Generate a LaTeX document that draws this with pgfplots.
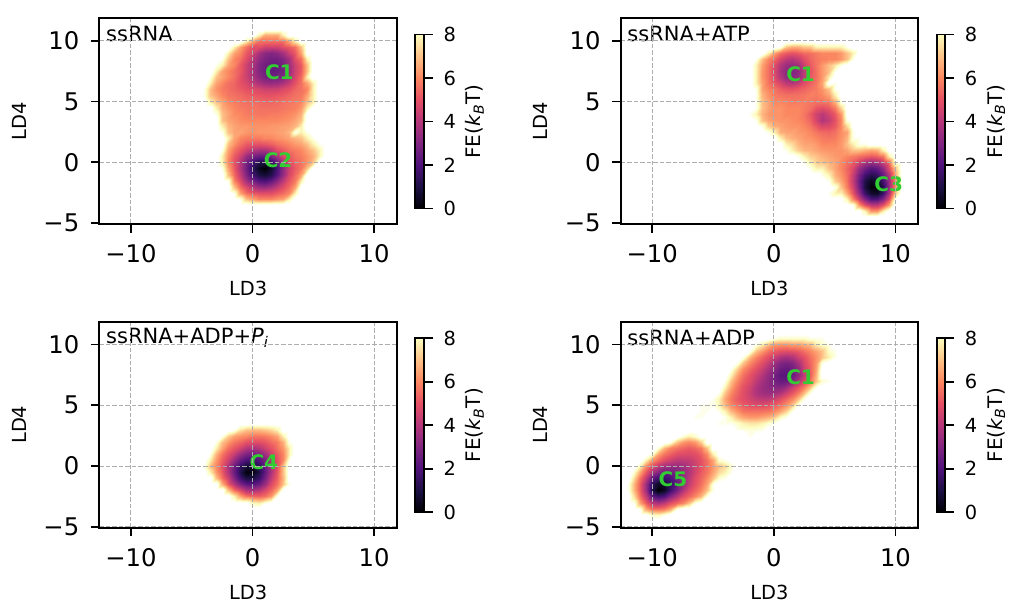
\documentclass[border=0pt]{standalone}
\usepackage{fontspec}
\setmainfont{DejaVu Sans}
\usepackage{pgfplots}
\pgfplotsset{compat=1.18}
\definecolor{cgreen}{RGB}{50,205,50}
\tikzset{
  lab/.style={font=\fontsize{20}{20}\selectfont\bfseries, text=cgreen, inner sep=0pt},
  ttl/.style={font=\fontsize{21}{21}\selectfont, anchor=west, inner sep=0pt},
}
\pgfplotsset{
  colormap={magw}{rgb255(0cm)=(0,0,4); rgb255(1cm)=(28,16,68); rgb255(2cm)=(79,18,123); rgb255(3cm)=(129,37,129); rgb255(4cm)=(181,54,122); rgb255(5cm)=(229,80,100); rgb255(6cm)=(251,135,97); rgb255(7cm)=(254,194,135); rgb255(8cm)=(252,253,191); rgb255(8.7cm)=(255,255,255); rgb255(9cm)=(255,255,255)},
  /pgfplots/table/cells/.style n args={3}{row sep=crcr, header=false, meta index=0,
    x expr={#2+0.5*mod(\coordindex,#1)}, y expr={#3-0.5*floor(\coordindex/#1)}},
  panel/.style={
    scale only axis, width=297.6pt, height=206pt, anchor=south west,
    xmin=-12.6, xmax=11.87, ymin=-5.07, ymax=11.87,
    xtick={-10,0,10}, xticklabels={−10,0,10},
    ytick={-5,0,5,10}, yticklabels={−5,0,5,10},
    tick align=outside, xtick pos=bottom, ytick pos=left,
    major tick length=8.5pt, tick style={black, line width=1.7pt},
    axis line style={line width=1.9pt},
    grid=major, major grid style={color=black!32, line width=1.1pt, dash pattern=on 4.5pt off 2pt},
    axis on top,
    tick label style={font=\fontsize{24.3}{24.3}\selectfont},
    xticklabel style={yshift=-8.5pt}, yticklabel style={xshift=-8pt},
    xlabel=LD3, ylabel=LD4,
    xlabel style={font=\fontsize{19.4}{19.4}\selectfont, at={(axis description cs:0.5,-0.315)}, anchor=center},
    ylabel style={font=\fontsize{19.4}{19.4}\selectfont, at={(axis description cs:-0.268,0.5)}, anchor=center},
    colormap name=magw, point meta min=0, point meta max=9,
    colorbar,
    colorbar style={
      scale only axis, width=8.6pt, height=174pt,
      at={(parent axis.north east)}, anchor=north west, xshift=10pt, yshift=-16.5pt,
      ymin=0, ymax=8, ytick={0,2,4,6,8}, yticklabels={0,2,4,6,8},
      tick align=outside, ytick pos=right,
      major tick length=8.5pt, tick style={black, line width=1.7pt},
      axis line style={line width=1.9pt},
      tick label style={font=\fontsize{19.4}{19.4}\selectfont},
      yticklabel style={xshift=7.5pt},
      ylabel={FE(\textit{k}\textsubscript{\textit{B}}T)},
      ylabel style={font=\fontsize{20}{20}\selectfont, at={(axis description cs:6.9,0.5)}, anchor=center, rotate=0},
    },
  },
  heat/.style={surf, shader=interp, point meta=explicit, mesh/cols=#1},
}
\begin{document}
\begin{tikzpicture}[x=1pt,y=1pt]
\useasboundingbox (0,0) rectangle (1011,603);
% ssRNA
\begin{axis}[panel, at={(99.3pt,379pt)}]
\addplot[heat=22] table[cells={22}{-4.5}{11}] {
9\\9\\9\\9\\9\\9\\9\\9\\9\\9\\9\\9\\9\\9\\9\\9\\9\\9\\9\\9\\9\\9\\
9\\9\\9\\9\\9\\9\\9\\9\\9\\9\\7.8\\6.6\\6.6\\6.6\\7.8\\9\\9\\9\\9\\9\\9\\9\\
9\\9\\9\\9\\9\\9\\9\\9\\7.8\\6.5\\5.6\\5.6\\5.6\\5.6\\5.6\\6.5\\7.8\\9\\9\\9\\9\\9\\
9\\9\\9\\9\\9\\9\\7.8\\6.5\\5.6\\4.9\\4.9\\4.5\\4.5\\4.5\\4.9\\5.2\\5.6\\7\\9\\9\\9\\9\\
9\\9\\9\\9\\9\\7.8\\6.5\\6\\5.2\\4.5\\3.7\\3.2\\3\\3.2\\3.7\\4.5\\5.2\\6.5\\9\\9\\9\\9\\
9\\9\\9\\9\\8.5\\7\\6\\5.6\\4.9\\4\\3.3\\2.9\\2.7\\2.7\\3\\3.7\\4.9\\5.6\\7.8\\9\\9\\9\\
9\\9\\9\\8.5\\7.8\\6.5\\6\\5.2\\4.5\\3.8\\3\\2.7\\2.5\\2.5\\2.8\\3.5\\4.5\\5.2\\7\\9\\9\\9\\
9\\9\\9\\7.8\\6.5\\6\\5.6\\5.2\\4.5\\3.7\\3\\2.6\\2.4\\2.5\\2.8\\3.5\\4.5\\5.2\\7\\9\\9\\9\\
9\\9\\8.5\\7\\6.5\\6\\5.6\\5\\4.5\\3.8\\3.2\\2.8\\2.7\\2.8\\3\\3.7\\4.7\\5.5\\7.8\\9\\9\\9\\
9\\9\\7.8\\6.5\\6\\5.6\\5.4\\5\\4.7\\4.2\\3.8\\3.5\\3.4\\3.5\\3.8\\4.3\\5\\5.6\\6.5\\7.8\\9\\9\\
9\\8.5\\7\\6.2\\5.8\\5.6\\5.4\\5.2\\5\\4.9\\4.7\\4.5\\4.5\\4.5\\4.8\\5\\5.4\\5.6\\6\\7.8\\9\\9\\
9\\8.5\\7\\6.5\\6\\5.7\\5.6\\5.5\\5.3\\5.2\\5.1\\5\\5\\5.1\\5.2\\5.4\\5.6\\5.7\\6.5\\7.8\\9\\9\\
9\\9\\7.8\\7\\6.5\\6\\5.8\\5.7\\5.6\\5.5\\5.5\\5.4\\5.4\\5.5\\5.6\\5.7\\5.8\\6\\7\\7.8\\9\\9\\
9\\9\\9\\7.8\\6.7\\6.3\\6\\5.8\\5.7\\5.7\\5.6\\5.6\\5.6\\5.6\\5.7\\5.8\\5.9\\6.3\\7.8\\9\\9\\9\\
9\\9\\9\\8.5\\7\\6.5\\6.1\\6\\5.8\\5.8\\5.7\\5.7\\5.8\\5.8\\5.9\\6\\6.2\\6.7\\9\\9\\9\\9\\
9\\9\\9\\9\\7\\6.5\\6.3\\6.1\\6\\6\\6\\6\\6\\6\\6.1\\6.2\\6.5\\7\\9\\9\\9\\9\\
9\\9\\9\\9\\7.8\\6.8\\6.5\\6.3\\6.3\\6.2\\6.2\\6.2\\6.3\\6.3\\6.4\\6.5\\6.8\\7.8\\9\\9\\9\\9\\
9\\9\\9\\9\\8.5\\7\\6.5\\6.5\\6.3\\6.2\\6.3\\6.3\\6.3\\6.4\\6.5\\6.8\\8.5\\7.8\\8.5\\9\\9\\9\\
9\\9\\9\\9\\9\\7.8\\6.5\\6\\5.8\\5.8\\5.8\\6\\6\\6.2\\6.3\\6.5\\6.8\\7\\7.8\\8.5\\9\\9\\
9\\9\\9\\9\\9\\7\\6.2\\5.6\\5.2\\5\\5\\5.1\\5.3\\5.6\\5.8\\6\\6.3\\6.5\\7\\7.8\\8.5\\9\\
9\\9\\9\\9\\8.5\\6.5\\5.6\\5.1\\4.5\\4\\3.8\\3.8\\4.2\\4.9\\5.2\\5.6\\5.8\\6\\6.5\\7\\7.8\\9\\
9\\9\\9\\9\\7.8\\6.2\\5.2\\4.5\\3.5\\2.8\\2.5\\2.5\\3\\3.8\\4.8\\5.2\\5.6\\5.8\\6.2\\6.7\\7.8\\9\\
9\\9\\9\\9\\7.8\\6\\5\\4\\2.8\\1.7\\1.1\\1\\1.5\\2.5\\3.8\\4.9\\5.4\\5.7\\6.2\\7\\9\\9\\
9\\9\\9\\9\\8.5\\6.5\\5.2\\4\\2.7\\1.3\\.4\\0\\.6\\1.8\\3.2\\4.5\\5.2\\5.7\\7\\9\\9\\9\\
9\\9\\9\\9\\9\\7\\5.5\\4.3\\3\\1.8\\1\\.8\\1.2\\2.2\\3.4\\4.7\\5.5\\6.5\\9\\9\\9\\9\\
9\\9\\9\\9\\9\\8.5\\6\\4.9\\3.7\\2.8\\2.2\\2\\2.4\\3.2\\4.2\\5.1\\5.8\\7.8\\9\\9\\9\\9\\
9\\9\\9\\9\\9\\9\\7\\5.6\\4.8\\4\\3.5\\3.4\\3.7\\4.3\\4.9\\5.5\\6.5\\9\\9\\9\\9\\9\\
9\\9\\9\\9\\9\\9\\8.5\\6.5\\5.6\\5.1\\4.9\\4.9\\4.9\\5.2\\5.5\\6\\7.8\\9\\9\\9\\9\\9\\
9\\9\\9\\9\\9\\9\\9\\8.5\\7\\6.5\\6\\6\\6\\6.3\\6.5\\7.8\\9\\9\\9\\9\\9\\9\\
9\\9\\9\\9\\9\\9\\9\\9\\9\\9\\9\\9\\9\\9\\9\\9\\9\\9\\9\\9\\9\\9\\
};
\node[ttl] at (axis cs:-12.05,10.55) {ssRNA};
\node[lab] at (axis cs:2.2,7.4) {C1};
\node[lab] at (axis cs:2.1,0.15) {C2};
\end{axis}
% ssRNA+ATP
\begin{axis}[panel, at={(620.6pt,379pt)}]
\addplot[heat=28] table[cells={28}{-2.5}{10}] {
9\\9\\9\\9\\9\\9\\9\\9\\9\\9\\9\\9\\9\\9\\9\\9\\9\\9\\9\\9\\9\\9\\9\\9\\9\\9\\9\\9\\
9\\9\\9\\9\\9\\9\\8.5\\7\\6.6\\6.6\\7\\7\\7.8\\7.8\\7.8\\7.8\\7.8\\8.5\\9\\9\\9\\9\\9\\9\\9\\9\\9\\9\\
9\\9\\9\\9\\7.8\\6.5\\5.6\\5.2\\5\\5.2\\5.5\\5.6\\5.8\\6\\6\\6\\6.3\\7\\7.8\\9\\9\\9\\9\\9\\9\\9\\9\\9\\
9\\9\\8.5\\7\\6\\5.5\\4.7\\4.2\\4\\4.3\\4.9\\5.4\\5.7\\5.9\\6\\6\\6.3\\7\\8.5\\9\\9\\9\\9\\9\\9\\9\\9\\9\\
9\\9\\7.8\\6.5\\5.7\\4.9\\4\\3.5\\3.4\\3.6\\4.5\\5.2\\5.7\\6.3\\7\\7.6\\8.5\\9\\9\\9\\9\\9\\9\\9\\9\\9\\9\\9\\
9\\9\\7.8\\6.3\\5.6\\4.8\\3.8\\3.2\\3\\3.2\\4.2\\5\\5.6\\6.3\\7\\8.5\\9\\9\\9\\9\\9\\9\\9\\9\\9\\9\\9\\9\\
9\\9\\7.8\\6.3\\5.6\\4.9\\4\\3.3\\3.1\\3.4\\4.2\\5.1\\5.6\\6.3\\7.8\\9\\9\\9\\9\\9\\9\\9\\9\\9\\9\\9\\9\\9\\
9\\9\\7.8\\6.5\\5.7\\5.2\\4.7\\4.2\\4\\4.3\\4.9\\5.3\\5.7\\6.5\\9\\8.5\\9\\9\\9\\9\\9\\9\\9\\9\\9\\9\\9\\9\\
9\\9\\8.5\\6.5\\6\\5.7\\5.3\\5.1\\5\\5.2\\5.4\\5.6\\5.8\\6.2\\7\\8.5\\9\\9\\9\\9\\9\\9\\9\\9\\9\\9\\9\\9\\
9\\9\\8.5\\6.8\\6.2\\5.8\\5.7\\5.6\\5.6\\5.6\\5.7\\5.9\\5.8\\6\\6.5\\7.8\\9\\9\\9\\9\\9\\9\\9\\9\\9\\9\\9\\9\\
9\\9\\8.5\\7\\6.5\\6\\6\\5.9\\5.8\\5.8\\5.8\\5.7\\5.6\\5.6\\5.8\\6.7\\8.5\\9\\9\\9\\9\\9\\9\\9\\9\\9\\9\\9\\
9\\9\\8.5\\7\\6.5\\6.2\\6.2\\6\\6\\6\\5.8\\5.6\\5.1\\4.9\\5.2\\5.8\\7.3\\9\\9\\9\\9\\9\\9\\9\\9\\9\\9\\9\\
9\\8.5\\7.8\\6.8\\6.3\\6.2\\6.2\\6\\6\\6\\5.7\\5.2\\4.5\\4.1\\4.6\\5.2\\6.3\\9\\9\\9\\9\\9\\9\\9\\9\\9\\9\\9\\
9\\9\\8.5\\7\\6.5\\6.3\\6.2\\6.2\\6.1\\6\\5.8\\5.4\\4.6\\3.9\\4.3\\5\\6\\8.5\\9\\9\\9\\9\\9\\9\\9\\9\\9\\9\\
9\\9\\9\\8.5\\7.2\\6.7\\6.5\\6.3\\6.2\\6.2\\6\\5.7\\5.2\\4.7\\4.8\\5.2\\6\\7.4\\9\\9\\9\\9\\9\\9\\9\\9\\9\\9\\
9\\9\\9\\9\\8.5\\7.8\\6.7\\6.5\\6.5\\6.3\\6.2\\6\\5.7\\5.5\\5.4\\5.6\\6.1\\6.5\\8.5\\9\\9\\9\\9\\9\\9\\9\\9\\9\\
9\\9\\9\\9\\9\\9\\7.8\\7\\6.7\\6.5\\6.3\\6.2\\6\\5.8\\5.7\\5.8\\6.2\\6.8\\8.5\\8.5\\9\\9\\9\\9\\9\\9\\9\\9\\
9\\9\\9\\9\\9\\9\\9\\7.8\\7.4\\6.8\\6.5\\6.5\\6.3\\6\\6\\6\\6.3\\7\\7.8\\8.5\\8.5\\9\\9\\9\\9\\9\\9\\9\\
9\\9\\9\\9\\9\\9\\9\\8.5\\7.8\\7.2\\6.8\\6.7\\6.5\\6.3\\6.2\\6.2\\6.2\\6.5\\7\\7\\6.7\\6.5\\6.7\\7.8\\9\\9\\9\\9\\
9\\9\\9\\9\\9\\9\\9\\9\\9\\8.5\\7.8\\7.2\\7\\6.7\\6.5\\6.3\\6.2\\6\\5.8\\5.6\\5.4\\5.2\\5.4\\5.8\\7.8\\9\\9\\9\\
9\\9\\9\\9\\9\\9\\9\\9\\9\\9\\8.5\\7.8\\7.2\\7\\6.7\\6.5\\6\\5.6\\5.2\\4.5\\3.8\\3.5\\3.8\\4.5\\5.6\\8.5\\9\\9\\
9\\9\\9\\9\\9\\9\\9\\9\\9\\9\\9\\8.5\\7.8\\7.8\\7\\6.5\\6\\5.4\\4.7\\3.5\\2.7\\2.2\\2.4\\3.3\\4.9\\7\\9\\9\\
9\\9\\9\\9\\9\\9\\9\\9\\9\\9\\9\\9\\9\\8.5\\7.8\\6.7\\6.2\\5.5\\4.3\\2.8\\1.7\\1.2\\1.5\\2.5\\4\\6.5\\9\\9\\
9\\9\\9\\9\\9\\9\\9\\9\\9\\9\\9\\9\\9\\9\\8.5\\7.2\\6.5\\5.6\\4.2\\2.5\\1\\.4\\.7\\1.8\\3.5\\6\\9\\9\\
9\\9\\9\\9\\9\\9\\9\\9\\9\\9\\9\\9\\9\\9\\9\\8.5\\7\\5.8\\4.5\\2.7\\.9\\.1\\0\\1.2\\3.5\\6\\9\\9\\
9\\9\\9\\9\\9\\9\\9\\9\\9\\9\\9\\9\\9\\9\\8.5\\7.8\\7.8\\6.5\\5\\3.3\\1.5\\.6\\.5\\1.6\\3.8\\7\\9\\9\\
9\\9\\9\\9\\9\\9\\9\\9\\9\\9\\9\\9\\9\\9\\9\\9\\9\\7.8\\6\\4.5\\3\\2\\2\\3\\4.9\\8.5\\9\\9\\
9\\9\\9\\9\\9\\9\\9\\9\\9\\9\\9\\9\\9\\9\\9\\9\\9\\9\\8.5\\6.3\\5\\4.2\\4.2\\5\\6.5\\9\\9\\9\\
9\\9\\9\\9\\9\\9\\9\\9\\9\\9\\9\\9\\9\\9\\9\\9\\9\\9\\9\\9\\7.8\\6.3\\6.3\\7.8\\9\\9\\9\\9\\
9\\9\\9\\9\\9\\9\\9\\9\\9\\9\\9\\9\\9\\9\\9\\9\\9\\9\\9\\9\\9\\9\\9\\9\\9\\9\\9\\9\\
};
\node[ttl] at (axis cs:-12.05,10.55) {ssRNA+ATP};
\node[lab] at (axis cs:2.2,7.25) {C1};
\node[lab] at (axis cs:9.45,-1.8) {C3};
\end{axis}
% ssRNA+ADP+Pi
\begin{axis}[panel, at={(99.3pt,75.3pt)}]
\addplot[heat=18] table[cells={18}{-4.5}{3.5}] {
9\\9\\9\\9\\9\\9\\9\\9\\9\\9\\9\\9\\9\\9\\9\\9\\9\\9\\
9\\9\\9\\9\\9\\9\\8.5\\7.5\\7\\6.8\\6.8\\7\\7.3\\7.8\\9\\9\\9\\9\\
9\\9\\9\\9\\8.5\\7.2\\6.5\\6.2\\6\\5.7\\5.7\\5.8\\6.1\\6.5\\7.8\\9\\9\\9\\
9\\9\\9\\8.5\\7\\6.3\\5.7\\5.4\\5\\4.9\\4.9\\5.1\\5.5\\5.8\\6.7\\8.5\\9\\9\\
9\\9\\9\\7.8\\6.5\\5.6\\5.1\\4.6\\4\\3.8\\4\\4.5\\5\\5.6\\6.3\\7.8\\9\\9\\
9\\9\\8.5\\6.8\\5.7\\5\\4.3\\3.5\\2.9\\2.7\\3\\3.6\\4.5\\5.2\\6\\7.8\\9\\9\\
9\\9\\7.8\\6.3\\5.3\\4.5\\3.4\\2.5\\1.9\\1.8\\2.1\\2.9\\4\\5\\6\\8.5\\9\\9\\
9\\8.5\\7\\6\\5\\3.8\\2.6\\1.5\\.8\\.8\\1.4\\2.5\\3.8\\5\\7\\9\\9\\9\\
9\\9\\7.8\\6.3\\5.2\\3.9\\2.5\\1.2\\.1\\.2\\1.1\\2.4\\3.8\\5.1\\7\\9\\9\\9\\
9\\9\\9\\7\\5.6\\4.5\\3\\1.8\\1\\1\\1.6\\2.8\\4.2\\5.3\\6.8\\9\\9\\9\\
9\\9\\9\\9\\6.7\\5.2\\4\\3\\2.3\\2.2\\2.6\\3.5\\4.8\\5.6\\7\\8.5\\9\\9\\
9\\9\\9\\9\\9\\7\\5.6\\4.8\\3.9\\3.7\\4\\4.7\\5.4\\6.5\\9\\9\\9\\9\\
9\\9\\9\\9\\9\\9\\7.8\\6.5\\5.7\\5.4\\5.3\\5.6\\6.3\\8.5\\9\\9\\9\\9\\
9\\9\\9\\9\\9\\9\\9\\9\\9\\8\\7.8\\8.5\\9\\9\\9\\9\\9\\9\\
9\\9\\9\\9\\9\\9\\9\\9\\9\\9\\9\\9\\9\\9\\9\\9\\9\\9\\
};
\node[ttl] at (axis cs:-12.05,10.55) {ssRNA+ADP+\textit{P}\textsubscript{\textit{i}}};
\node[lab] at (axis cs:0.93,0.3) {C4};
\end{axis}
% ssRNA+ADP
\begin{axis}[panel, at={(620.6pt,75.3pt)}]
\addplot[heat=28] table[cells={28}{-7}{11}] {
9\\9\\9\\9\\9\\9\\9\\9\\9\\9\\9\\9\\9\\9\\9\\9\\9\\9\\9\\9\\9\\9\\9\\9\\9\\9\\9\\9\\
9\\9\\9\\9\\9\\9\\9\\9\\9\\9\\9\\9\\9\\9\\8.5\\8.2\\8.2\\8.2\\8.2\\8.2\\8.5\\8.5\\8.5\\9\\9\\9\\9\\9\\
9\\9\\9\\9\\9\\9\\9\\9\\9\\9\\9\\8.5\\7.8\\7\\6.5\\6.3\\6.3\\6.5\\6.5\\6.8\\7\\7.8\\8.2\\8.5\\9\\9\\9\\9\\
9\\9\\9\\9\\9\\9\\9\\9\\9\\9\\8.5\\7\\6.3\\5.6\\5.2\\5\\4.9\\5\\5.2\\5.6\\6\\6.5\\7\\8.2\\8.5\\9\\9\\9\\
9\\9\\9\\9\\9\\9\\9\\9\\9\\8.5\\6.8\\6\\5.4\\4.9\\4.4\\3.9\\3.7\\3.9\\4.5\\5\\5.6\\6.2\\7\\7.8\\8.5\\9\\9\\9\\
9\\9\\9\\9\\9\\9\\9\\9\\8.5\\7\\6\\5.4\\4.9\\4.3\\3.6\\3\\2.8\\3\\3.7\\4.7\\5.4\\6.3\\8.5\\9\\9\\9\\9\\9\\
9\\9\\9\\9\\9\\9\\9\\8.5\\7.2\\6.1\\5.4\\4.9\\4.4\\3.8\\3.2\\2.6\\2.4\\2.6\\3.3\\4.5\\5.3\\6.5\\9\\9\\9\\9\\9\\9\\
9\\9\\9\\9\\9\\9\\9\\7.8\\6.5\\5.6\\5\\4.5\\4\\3.4\\2.8\\2.3\\2.2\\2.5\\3.2\\4.3\\5.2\\6.8\\9\\9\\9\\9\\9\\9\\
9\\9\\9\\9\\9\\9\\8.5\\7\\6\\5.3\\4.8\\4.2\\3.7\\3.3\\2.8\\2.5\\2.5\\3\\3.8\\4.8\\5.6\\7\\8.2\\8.5\\9\\9\\9\\9\\
9\\9\\9\\9\\9\\9\\7.8\\6.5\\5.6\\5\\4.5\\3.9\\3.5\\3.3\\3.1\\3.1\\3.5\\4.3\\5\\5.8\\7\\8.5\\9\\9\\9\\9\\9\\9\\
9\\9\\9\\9\\9\\8.5\\7\\6\\5.4\\4.9\\4.4\\3.9\\3.6\\3.5\\3.6\\3.9\\4.5\\5.1\\5.8\\7\\8.5\\9\\9\\9\\9\\9\\9\\9\\
9\\9\\9\\9\\8.5\\7.8\\6.5\\5.7\\5.2\\4.9\\4.6\\4.3\\4.2\\4.2\\4.5\\4.9\\5.4\\6\\7\\8.5\\9\\9\\9\\9\\9\\9\\9\\9\\
9\\9\\8.5\\8.5\\8.5\\7.8\\6.8\\6\\5.6\\5.2\\5\\4.9\\4.9\\5\\5.2\\5.6\\6.2\\7\\8.5\\9\\9\\9\\9\\9\\9\\9\\9\\9\\
9\\9\\8.5\\8.5\\9\\8.5\\7.8\\6.8\\6.2\\5.7\\5.6\\5.6\\5.6\\5.7\\6\\6.5\\7.2\\8.5\\9\\9\\9\\9\\9\\9\\9\\9\\9\\9\\
9\\8.5\\8.5\\9\\9\\9\\8.5\\7.8\\7\\6.5\\6.3\\6.3\\6.5\\6.7\\7.1\\8\\8.5\\9\\9\\9\\9\\9\\9\\9\\9\\9\\9\\9\\
9\\9\\9\\9\\9\\8.5\\8.5\\8.5\\8.2\\7.8\\7.6\\7.6\\7.8\\8.2\\8.5\\9\\9\\9\\9\\9\\9\\9\\9\\9\\9\\9\\9\\9\\
9\\9\\9\\9\\9\\9\\9\\9\\8.5\\8.4\\8.3\\8.4\\8.5\\9\\9\\9\\9\\9\\9\\9\\9\\9\\9\\9\\9\\9\\9\\9\\
9\\9\\9\\9\\9\\9\\9\\9\\9\\9\\8.5\\9\\9\\9\\9\\9\\9\\9\\9\\9\\9\\9\\9\\9\\9\\9\\9\\9\\
9\\9\\9\\9\\9\\9\\9\\9\\9\\9\\9\\9\\9\\9\\9\\9\\9\\9\\9\\9\\9\\9\\9\\9\\9\\9\\9\\9\\
};
\addplot[heat=21] table[cells={21}{-12.5}{3}] {
9\\9\\9\\9\\9\\9\\9\\9\\9\\9\\9\\9\\9\\9\\9\\9\\9\\9\\9\\9\\9\\
9\\9\\9\\9\\9\\9\\9\\9\\9\\9\\8.3\\7.8\\8.2\\9\\9\\9\\9\\9\\9\\9\\9\\
9\\9\\9\\9\\9\\9\\9\\9\\8.5\\7\\6.3\\6\\6.3\\7.2\\9\\9\\9\\9\\9\\9\\9\\
9\\9\\9\\9\\9\\9\\8.3\\6.8\\6\\5.6\\5.4\\5.2\\5.4\\5.8\\7\\9\\9\\9\\9\\9\\9\\
9\\9\\9\\9\\9\\8.3\\6.5\\5.7\\5.3\\4.9\\4.8\\4.8\\4.9\\5.3\\6.1\\7.8\\9\\9\\9\\9\\9\\
9\\9\\9\\9\\7.8\\6.3\\5.5\\4.9\\4.5\\4.2\\4.2\\4.3\\4.6\\5\\5.6\\6.5\\8.2\\8.5\\9\\9\\9\\
9\\9\\9\\7.8\\6\\4.9\\4.2\\3.7\\3.5\\3.4\\3.6\\4\\4.5\\5\\5.6\\6.3\\7\\7.4\\8.2\\9\\9\\
9\\9\\8.2\\6.5\\5.1\\3.8\\3\\2.7\\2.7\\3\\3.4\\3.9\\4.6\\5.2\\5.7\\6.5\\7.4\\7.8\\8.5\\9\\9\\
9\\9\\7.4\\5.6\\4.2\\2.4\\1.7\\1.6\\2\\2.7\\3.4\\4.1\\4.9\\5.4\\6.1\\7\\8.2\\8.5\\9\\9\\9\\
9\\8.5\\6.8\\5.2\\3.5\\1.3\\.5\\.7\\1.5\\2.5\\3.4\\4.3\\5\\5.6\\6.5\\8.5\\9\\9\\9\\9\\9\\
9\\8.5\\6.8\\5.2\\3.5\\1.1\\0\\.4\\1.6\\2.8\\3.9\\4.8\\5.4\\6\\7\\8.5\\9\\9\\9\\9\\9\\
9\\9\\7.4\\5.6\\4.2\\2.4\\1.7\\2\\3\\4\\4.9\\5.4\\6\\6.8\\8.5\\9\\9\\9\\9\\9\\9\\
9\\9\\8.5\\6.5\\5.2\\4.2\\3.8\\4.2\\4.9\\5.5\\6\\7\\8.5\\9\\9\\9\\9\\9\\9\\9\\9\\
9\\9\\9\\8.5\\6.5\\5.7\\5.6\\5.8\\6.5\\8.5\\9\\9\\9\\9\\9\\9\\9\\9\\9\\9\\9\\
9\\9\\9\\9\\9\\8.2\\8\\8.5\\9\\9\\9\\9\\9\\9\\9\\9\\9\\9\\9\\9\\9\\
9\\9\\9\\9\\9\\9\\9\\9\\9\\9\\9\\9\\9\\9\\9\\9\\9\\9\\9\\9\\9\\
};
\node[ttl] at (axis cs:-12.05,10.55) {ssRNA+ADP};
\node[lab] at (axis cs:2.2,7.3) {C1};
\node[lab] at (axis cs:-8.3,-1.07) {C5};
\end{axis}
\end{tikzpicture}
\end{document}
